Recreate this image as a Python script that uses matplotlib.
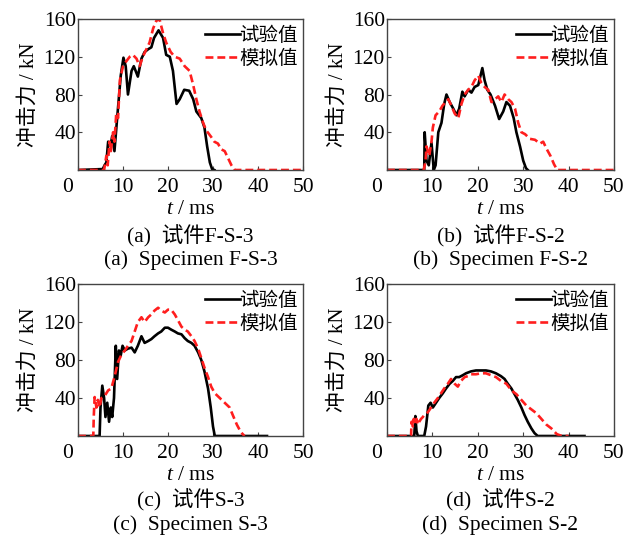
"""Impact force histories: test vs simulation for four specimens."""

import matplotlib

matplotlib.use("Agg")
import matplotlib.pyplot as plt
import matplotlib.transforms as mtransforms

# (a) F-S-3
A_EXP_T = [0, 5.5, 5.9, 6.3, 6.7, 7.2, 7.6, 8.1, 8.7, 9.5, 10.1, 10.6, 11.1, 11.9, 12.4, 13.3, 14.1, 14.8,
           15.6, 16.3, 16.9, 17.9, 18.9, 19.6, 20.4, 21.1, 21.9, 22.6, 23.6, 24.7, 25.6, 26.3, 27.4, 28.1,
           28.7, 29.3, 29.8, 30.3]
A_EXP_F = [0, 1, 5, 8, 30, 25, 36, 20, 55, 100, 119, 110, 80, 105, 110, 99, 118, 125,
           128, 130, 140, 148, 140, 122, 120, 105, 70, 75, 85, 84, 75, 62, 55, 45,
           25, 8, 1, 0]
A_SIM_T = [0, 5.8, 6.3, 6.6, 7.0, 7.3, 7.8, 8.1, 8.5, 8.9, 9.3, 10.0, 10.7, 11.5, 12.2, 13.0, 13.7, 14.4,
           15.2, 15.9, 16.7, 17.4, 18.1, 18.9, 19.6, 20.6, 21.5, 22.6, 23.7, 24.8, 25.6, 26.3, 27.0, 27.8,
           28.5, 29.6, 30.3, 31.1, 31.8, 32.6, 33.4, 34.1, 34.8, 50]
A_SIM_F = [0, 0, 15, 5, 30, 20, 40, 30, 60, 55, 95, 110, 115, 120, 122, 118, 110, 120,
           128, 135, 150, 158, 160, 145, 135, 125, 120, 118, 110, 105, 90, 75, 62, 50,
           42, 35, 30, 28, 22, 20, 12, 5, 0, 0]

# (b) F-S-2
B_EXP_T = [0, 8.2, 8.3, 8.7, 9.2, 9.8, 10.3, 10.7, 11.3, 12.0, 12.6, 13.1, 13.8, 14.6, 15.3, 15.9, 16.6,
           17.1, 17.9, 18.6, 19.3, 20.1, 20.6, 21.0, 21.5, 22.1, 22.8, 23.8, 24.7, 25.6, 26.3, 27.1, 27.9,
           28.5, 29.3, 30.0, 30.6, 31.0]
B_EXP_F = [0, 0, 40, 10, 5, 29, 0, 5, 40, 50, 70, 80, 72, 65, 58, 65, 83,
           78, 85, 82, 88, 90, 100, 108, 95, 85, 80, 68, 54, 62, 72, 68, 55,
           40, 25, 10, 2, 0]
B_SIM_T = [0, 8.1, 8.5, 8.7, 9.3, 9.8, 10.1, 10.7, 11.5, 12.2, 12.9, 13.5, 14.2, 14.9, 15.7, 16.4, 17.1,
           17.9, 18.6, 19.3, 20.1, 20.8, 21.5, 22.3, 23.0, 23.8, 24.5, 25.2, 25.9, 26.7, 27.4, 28.2, 28.9,
           29.6, 30.4, 31.5, 32.6, 33.7, 34.4, 35.2, 36.0, 36.8, 37.5, 50]
B_SIM_F = [0, 0, 10, 25, 15, 30, 45, 58, 62, 68, 72, 75, 68, 60, 55, 70, 80,
           85, 88, 95, 100, 92, 88, 85, 72, 75, 78, 72, 80, 75, 72, 65, 50,
           40, 38, 33, 32, 28, 30, 22, 15, 6, 0, 0]

# (c) S-3
C_EXP_T = [0, 4.8, 5.0, 5.4, 5.8, 6.1, 6.5, 6.9, 7.3, 7.6, 8.0, 8.4, 8.7, 9.1, 9.5, 9.9, 10.4, 11.1,
           11.9, 12.6, 13.3, 14.1, 14.8, 15.6, 16.3, 17.0, 17.8, 18.5, 19.3, 20.0, 20.7, 21.5, 22.2, 23.0,
           23.7, 24.4, 25.2, 25.9, 26.7, 27.4, 28.1, 28.9, 29.5, 30.0, 30.4, 42]
C_EXP_F = [0, 0, 30, 53, 40, 20, 35, 15, 30, 20, 40, 95, 60, 90, 85, 95, 90, 92,
           93, 88, 95, 105, 98, 100, 102, 105, 108, 110, 114, 114, 112, 110, 108, 107,
           103, 100, 98, 95, 88, 80, 68, 50, 30, 10, 0, 0]
C_SIM_T = [0, 3.4, 3.5, 3.7, 4.1, 4.4, 4.8, 5.2, 5.9, 6.7, 7.4, 8.1, 8.9, 9.6, 10.4, 11.1, 11.9, 12.6,
           13.3, 14.1, 14.8, 15.6, 16.3, 17.0, 17.8, 18.5, 19.3, 20.0, 20.7, 21.5, 22.2, 23.0, 23.7, 24.4,
           25.2, 25.9, 26.7, 27.4, 28.1, 28.9, 29.6, 30.4, 31.5, 32.6, 33.7, 34.4, 35.3, 36.2, 37.0]
C_SIM_F = [0, 0, 20, 41, 30, 38, 30, 40, 42, 48, 50, 62, 78, 85, 90, 95, 100, 110,
           120, 125, 120, 125, 128, 132, 135, 132, 130, 133, 133, 128, 122, 115, 112, 110,
           105, 100, 92, 82, 72, 62, 52, 45, 40, 35, 30, 22, 12, 4, 0]

# (d) S-2
D_EXP_T = [0, 6.0, 6.25, 6.5, 6.8, 8.2, 8.6, 9.1, 9.6, 10.1, 10.8, 11.5, 12.3, 13.0, 13.8, 14.5, 15.2,
           15.9, 16.7, 17.4, 18.5, 19.6, 20.7, 21.8, 22.9, 24.0, 25.1, 25.9, 26.6, 27.4, 28.1, 28.8, 29.6,
           30.3, 31.0, 31.8, 32.5, 33.2, 43.5]
D_EXP_F = [0, 0, 21, 5, 0, 0, 10, 32, 35, 30, 35, 40, 45, 50, 55, 58, 62,
           62, 64, 66, 68, 69, 69, 69, 68, 66, 63, 60, 55, 50, 44, 38, 30,
           22, 15, 8, 3, 0, 0]
D_SIM_T = [0, 5.3, 5.4, 5.7, 5.9, 6.2, 6.5, 6.8, 7.1, 7.5, 7.9, 8.2, 9.0, 9.7, 10.4, 11.2, 11.9, 12.6,
           13.4, 14.1, 14.9, 15.6, 16.3, 17.1, 17.8, 18.5, 19.6, 20.7, 21.8, 22.9, 24.0, 25.1, 26.3, 27.4,
           28.5, 29.6, 30.7, 31.8, 32.9, 34.0, 35.1, 36.2, 37.4, 38.5, 40.0]
D_SIM_F = [0, 0, 15, 10, 18, 12, 18, 12, 15, 18, 20, 22, 25, 30, 35, 40, 45, 50,
           55, 60, 55, 52, 58, 62, 63, 65, 65, 66, 66, 64, 62, 58, 55, 48,
           44, 38, 32, 28, 24, 18, 12, 8, 2, 0, 0]

X_TICKS = [0, 10, 20, 30, 40, 50]
Y_TICKS = [40, 80, 120, 160]
LEGEND_LABELS = ["试验值", "模拟值"]
CAPTIONS_CN = ["(a)  试件F-S-3", "(b)  试件F-S-2", "(c)  试件S-3", "(d)  试件S-2"]
CAPTIONS_EN = ["(a)  Specimen F-S-3", "(b)  Specimen F-S-2", "(c)  Specimen S-3", "(d)  Specimen S-2"]

FIG_W, FIG_H = 632, 535
EXP_COLOR = "black"
SIM_COLOR = "#ff1e1e"
FONTS = ["Liberation Serif", "Noto Sans CJK SC", "DejaVu Sans"]

# axes boxes in pixels: left, right, top, bottom
BOXES = [(78, 303, 19, 170), (387, 614, 19, 170), (78, 303, 284, 436), (387, 614, 284, 436)]
YLABEL_X = [29, 338, 29, 338]
TEXT_ROWS = [(210, 236, 260), (210, 236, 260), (476, 500, 525), (476, 500, 525)]


def px_box(left, right, top, bottom):
    return [left / FIG_W, 1 - bottom / FIG_H, (right - left) / FIG_W, (bottom - top) / FIG_H]


def draw_panel(fig, idx, exp_t, exp_f, sim_t, sim_f):
    left, right, top, bottom = BOXES[idx]
    ax = fig.add_axes(px_box(left, right, top, bottom))
    ax.plot(exp_t, exp_f, color=EXP_COLOR, linewidth=1.9, label=LEGEND_LABELS[0])
    ax.plot(sim_t, sim_f, color=SIM_COLOR, linewidth=1.9, linestyle=(0, (3.0, 1.5)), label=LEGEND_LABELS[1])
    ax.set_xlim(0, 50)
    ax.set_ylim(0, 160)
    ax.set_xticks(X_TICKS)
    ax.set_yticks(Y_TICKS)
    ax.tick_params(direction="in", length=3, width=0.8, labelsize=15.5, color="#444444")
    ax.tick_params(axis="x", pad=6)
    ax.tick_params(axis="y", pad=1.5)
    for spine in ax.spines.values():
        spine.set_color("#444444")
        spine.set_linewidth(1.0)
    # the "0" label sits left of the axis corner in the original
    offset = mtransforms.ScaledTranslation(-10 / 100, 0, fig.dpi_scale_trans)
    first = ax.xaxis.get_majorticklabels()[0]
    first.set_transform(first.get_transform() + offset)

    # legend anchored at its upper right corner, in pixels
    ax.legend(
        loc="upper right",
        bbox_to_anchor=((right - 5 - left) / (right - left), 1 - 6 / (bottom - top)),
        frameon=False,
        handlelength=1.75,
        handletextpad=0.0,
        labelspacing=0.08,
        borderaxespad=0.0,
        borderpad=0.0,
        prop={"family": ["Noto Sans CJK SC"], "size": 14},
    )

    cx = (left + right) / 2 / FIG_W
    y_t, y_cn, y_en = TEXT_ROWS[idx]
    fig.text(cx, 1 - y_t / FIG_H, "$t$ / ms", ha="center", va="center", fontsize=15.5)
    fig.text(cx, 1 - y_cn / FIG_H, CAPTIONS_CN[idx], ha="center", va="center", fontsize=15.5, family=FONTS)
    fig.text(cx, 1 - y_en / FIG_H, CAPTIONS_EN[idx], ha="center", va="center", fontsize=15.5)
    fig.text(
        YLABEL_X[idx] / FIG_W,
        1 - (top + bottom) / 2 / FIG_H,
        "冲击力 / kN",
        rotation=90,
        ha="center",
        va="center",
        fontsize=15,
        family=FONTS,
    )
    return ax


def main():
    plt.rcParams["font.family"] = FONTS
    plt.rcParams["mathtext.fontset"] = "custom"
    plt.rcParams["mathtext.rm"] = "Liberation Serif"
    plt.rcParams["mathtext.it"] = "Liberation Serif:italic"

    fig = plt.figure(figsize=(FIG_W / 100, FIG_H / 100), dpi=100)
    panels = [
        (A_EXP_T, A_EXP_F, A_SIM_T, A_SIM_F),
        (B_EXP_T, B_EXP_F, B_SIM_T, B_SIM_F),
        (C_EXP_T, C_EXP_F, C_SIM_T, C_SIM_F),
        (D_EXP_T, D_EXP_F, D_SIM_T, D_SIM_F),
    ]
    for idx, (et, ef, st, sf) in enumerate(panels):
        draw_panel(fig, idx, et, ef, st, sf)

    fig.savefig("out.png", dpi=100)
    plt.close(fig)


if __name__ == "__main__":
    main()
